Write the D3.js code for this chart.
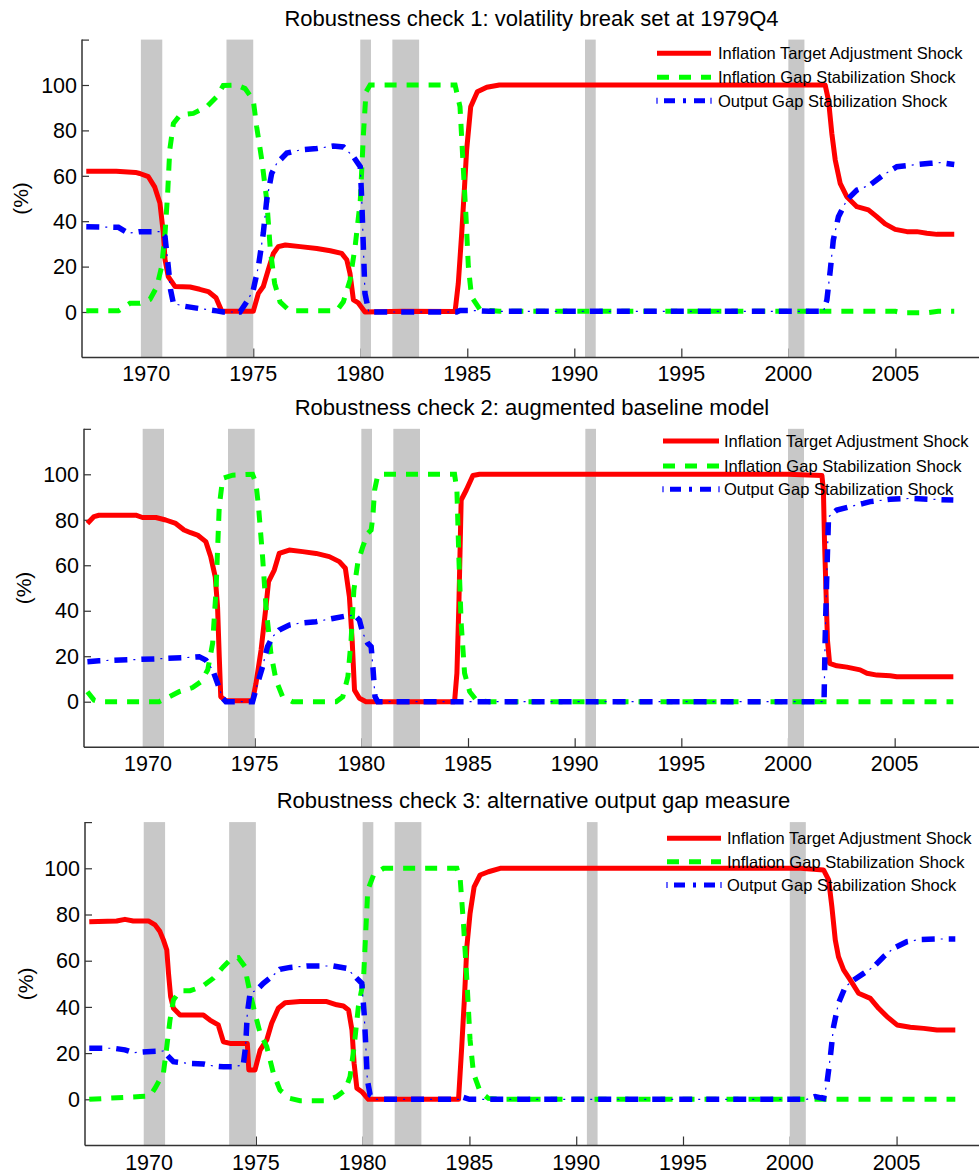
<!DOCTYPE html>
<html>
<head>
<meta charset="utf-8">
<script src="https://cdn.jsdelivr.net/npm/d3@7"></script>
<style>
  html, body { margin: 0; padding: 0; background: #fff; }
  svg { display: block; }
  text { font-family: "Liberation Sans", Arial, Helvetica, sans-serif; fill: #000; }
</style>
</head>
<body>
<svg id="chart" width="979" height="1175"></svg>
<script>
// ---------------- DATA ----------------
const titles = [
  "Robustness check 1: volatility break set at 1979Q4",
  "Robustness check 2: augmented baseline model",
  "Robustness check 3: alternative output gap measure"
];
const seriesNames = [
  "Inflation Target Adjustment Shock",
  "Inflation Gap Stabilization Shock",
  "Output Gap Stabilization Shock"
];
const xTicks = [1970, 1975, 1980, 1985, 1990, 1995, 2000, 2005];
const yTicks = [0, 20, 40, 60, 80, 100];
const yTickMarks = [0, 20, 40, 60, 80, 100, 120];
const xDomain = [1967, 2009];
const yDomain = [-20, 120];
const yLabel = "(%)";
// recession bands [start, end]
const recessions = [[1969.75,1970.75],[1973.75,1975.0],[1980.0,1980.5],[1981.5,1982.75],[1990.5,1991.0],[2000.0,2000.75]];

// Panel 1: [year, percent]
const p1Target = [[1967.2,62],[1968.6,62],[1969.5,61.5],[1969.7,61],[1970.1,59.6],[1970.4,55],[1970.64,48],[1970.8,34.7],[1970.88,23],[1971.03,15.6],[1971.35,11.2],[1972.05,11],[1972.5,10],[1972.9,9],[1973.26,6.3],[1973.53,0.3],[1975.0,0.3],[1975.24,8.2],[1975.47,11.2],[1975.7,18.5],[1975.94,25.8],[1976.17,28.8],[1976.5,29.5],[1977.2,28.8],[1977.97,28],[1978.6,27],[1979.13,25.8],[1979.37,23],[1979.52,17],[1979.68,5.3],[1979.91,4],[1980.22,0],[1982,0.3],[1984.43,0.2],[1984.58,12.6],[1984.74,34.7],[1984.87,55],[1984.97,71.4],[1985.16,90.4],[1985.47,97],[1985.91,99],[1986.5,100],[2001.72,100],[2001.88,93],[2002.03,78.7],[2002.19,67],[2002.42,56.7],[2002.73,50.8],[2003.2,46.4],[2003.74,45],[2004.13,42],[2004.52,38.8],[2004.99,36.4],[2005.54,35.4],[2006.0,35.4],[2006.47,34.7],[2006.94,34.2],[2007.75,34.2]];
const p1InfGap = [[1967.2,0.5],[1968.7,0.5],[1969.24,3.8],[1969.71,3.8],[1970.18,5.6],[1970.49,11],[1970.72,20],[1970.88,34.7],[1971.0,52],[1971.1,71.4],[1971.27,83],[1971.58,86.8],[1972.2,87.5],[1972.83,90.4],[1973.29,94.8],[1973.6,99.8],[1974.23,100],[1974.62,98.4],[1975.0,93.4],[1975.16,81.6],[1975.4,67],[1975.63,49.3],[1975.8,27.3],[1976.0,12.6],[1976.25,4.5],[1976.7,0.5],[1978.9,0.5],[1979.21,4.5],[1979.52,14],[1979.76,28.8],[1980.0,49],[1980.15,78.7],[1980.27,97],[1980.46,100],[1984.43,100],[1984.66,90.4],[1984.81,64],[1984.94,42],[1985.05,20],[1985.2,6.7],[1985.6,1],[1986.5,0.3],[2005.0,0.3],[2005.3,-0.3],[2006.5,-0.3],[2007.0,0.3],[2007.75,0.3]];
const p1OutGap = [[1967.2,37.6],[1968.7,37.3],[1969.17,34.7],[1969.71,35.4],[1970.64,35.4],[1970.88,33],[1971.03,20],[1971.14,9.7],[1971.27,3.8],[1971.74,2.6],[1972.5,1.5],[1973.29,0.5],[1973.6,0],[1974.38,0],[1974.7,4.5],[1975.0,9.7],[1975.24,20],[1975.47,34.7],[1975.63,49.3],[1975.86,61],[1976.1,65.5],[1976.57,70],[1977.2,71.4],[1977.97,72],[1978.74,73.1],[1979.21,72.7],[1979.68,68.4],[1980.0,64],[1980.07,49.3],[1980.15,27.3],[1980.22,8.2],[1980.4,0],[1984.5,0],[1984.66,0.7],[1985.2,0.7],[1986,0.3],[2001.64,0.3],[2001.8,5.3],[2001.96,18.5],[2002.1,31.7],[2002.34,42],[2002.73,49.3],[2003.2,53.7],[2003.82,56],[2004.44,60.4],[2005.07,64],[2005.85,64.8],[2006.63,65.5],[2007.1,65.8],[2007.75,65]];

// Panel 2
const p2Target = [[1967.16,78.4],[1967.47,81.4],[1967.7,82],[1969.43,82],[1969.74,81],[1970.37,81],[1970.83,79.9],[1971.3,78.4],[1971.69,75.5],[1972.0,74.3],[1972.32,73.3],[1972.71,70.4],[1972.94,63.8],[1973.15,55],[1973.26,41.8],[1973.34,19.8],[1973.41,2.2],[1973.65,0.4],[1974.9,0.4],[1975.06,8],[1975.3,22.7],[1975.53,41.8],[1975.65,52.8],[1975.92,57.9],[1976.15,65.2],[1976.62,66.7],[1977.25,66],[1977.88,65.2],[1978.5,63.8],[1978.97,61.6],[1979.25,58.7],[1979.44,46.2],[1979.57,27.1],[1979.68,5.1],[1979.91,1.5],[1980.22,0],[1984.37,0],[1984.48,12.5],[1984.57,41.8],[1984.68,88.7],[1984.92,93.1],[1985.23,99.5],[1985.54,100],[2000.0,100],[2001.59,99.5],[2001.66,93],[2001.71,71],[2001.78,49],[2001.85,27],[2001.95,16.9],[2002.29,15.8],[2002.76,15.2],[2003.38,14],[2003.7,12.5],[2004.17,11.7],[2004.79,11.4],[2005.1,11],[2007.75,11]];
const p2InfGap = [[1967.16,4.4],[1967.47,0.7],[1967.7,0],[1970.52,0],[1971.0,2.2],[1971.46,4.4],[1972.09,6.2],[1972.48,8.8],[1972.8,14],[1973.03,25.7],[1973.19,49.1],[1973.26,66.7],[1973.34,85.8],[1973.5,98.2],[1973.97,99.6],[1974.9,100],[1975.06,96],[1975.18,85.8],[1975.37,63.8],[1975.53,41.8],[1975.76,21.3],[1976.0,9.5],[1976.31,2.2],[1976.78,0],[1978.82,0],[1979.13,2.2],[1979.37,11],[1979.52,27.1],[1979.65,49.1],[1979.83,60.9],[1980.07,68.2],[1980.3,74],[1980.46,75.5],[1980.54,81.3],[1980.62,93],[1980.77,99.6],[1981.0,100],[1984.37,100],[1984.48,93],[1984.57,63.8],[1984.68,34.5],[1984.84,12.5],[1985.08,4.4],[1985.39,0.7],[1986,0],[2007.75,0]];
const p2OutGap = [[1967.16,17.6],[1967.7,18],[1969.58,18.6],[1970.52,18.9],[1971.62,19.3],[1972.4,19.8],[1972.71,18.3],[1973.03,14],[1973.26,8.1],[1973.5,1.5],[1973.65,0],[1974.9,0],[1975.14,8.1],[1975.37,15.4],[1975.6,24.2],[1975.84,28.6],[1976.15,31.5],[1976.62,33.7],[1977.09,34.5],[1977.88,35.2],[1978.66,36.6],[1979.29,37.7],[1979.68,38.1],[1979.91,35.9],[1980.07,30.1],[1980.3,25.7],[1980.46,24.2],[1980.54,15.4],[1980.64,2.2],[1980.77,0],[2001.69,0],[2001.74,27],[2001.82,56.4],[2001.9,81.3],[2002.29,84.3],[2002.92,85.8],[2003.54,87.2],[2003.85,88],[2004.79,89],[2005.73,89.4],[2006.67,89],[2007.75,88.7]];

// Panel 3
const p3Target = [[1967.2,76.9],[1968.48,77.2],[1968.87,77.9],[1969.26,77.2],[1969.97,77.2],[1970.28,75.5],[1970.51,72.6],[1970.67,69],[1970.83,64.6],[1970.91,54.5],[1971.01,44.4],[1971.14,39.4],[1971.45,36.5],[1972.54,36.5],[1972.85,34.3],[1973.24,32.2],[1973.48,24.9],[1973.79,24.2],[1974.6,24.2],[1974.67,12.7],[1974.96,12.7],[1975.2,21.3],[1975.51,25.7],[1975.74,32.9],[1976.05,39.4],[1976.37,41.8],[1977.07,42.3],[1978.32,42.3],[1978.79,40.9],[1979.1,40.4],[1979.34,38.7],[1979.5,30],[1979.6,15.6],[1979.73,4.8],[1979.96,3.3],[1980.27,0],[1984.49,0],[1984.64,22.8],[1984.77,44.4],[1984.88,66.1],[1985.03,80.5],[1985.22,92],[1985.5,97.1],[1985.89,98.5],[1986.44,100],[2000.5,100],[2001.58,99.3],[2001.82,95],[2001.97,83.4],[2002.13,69],[2002.28,61.7],[2002.52,56],[2002.83,51.7],[2003.22,45.9],[2003.77,43.7],[2004.16,39.4],[2004.55,35.8],[2005.02,32.2],[2005.64,31.2],[2006.27,30.7],[2006.89,30],[2007.75,30]];
const p3InfGap = [[1967.2,0],[1969.58,1.2],[1970.04,1.4],[1970.28,4.8],[1970.67,11.3],[1970.83,22.8],[1970.98,34.3],[1971.14,43],[1971.45,47],[1971.92,47],[1972.46,48.7],[1973.01,52.4],[1973.48,57.4],[1973.87,61],[1974.18,61.3],[1974.49,57.4],[1974.57,53.1],[1974.73,45.9],[1974.96,37.2],[1975.2,28.6],[1975.51,22.8],[1975.82,11.3],[1976.13,4],[1976.6,0.4],[1977.07,-0.6],[1978.24,-0.6],[1978.79,1.2],[1979.18,4],[1979.41,9.8],[1979.6,22.8],[1979.8,40.1],[1980.04,51.7],[1980.15,73.3],[1980.24,90.6],[1980.51,97.1],[1980.98,100],[1984.41,100],[1984.57,95],[1984.72,76.2],[1984.88,51.7],[1985.03,25.7],[1985.19,11.3],[1985.5,3.3],[1985.89,0.4],[1986.5,0],[2007.75,0]];
const p3OutGap = [[1967.2,22.1],[1968.33,22.1],[1968.87,21.4],[1969.26,20.2],[1969.89,20.6],[1970.67,20.9],[1970.91,18.5],[1971.14,16.3],[1971.76,15.6],[1972.54,15.3],[1973.01,14.4],[1973.48,14.1],[1973.95,14.1],[1974.41,14.9],[1974.52,22.8],[1974.6,37.2],[1974.73,45.9],[1975.04,47.3],[1975.35,50.2],[1975.74,53.1],[1976.13,56.3],[1976.6,57.1],[1977.38,57.7],[1978.63,57.7],[1979.26,56.7],[1979.65,53.1],[1979.96,50.2],[1980.07,37.2],[1980.15,22.8],[1980.22,8.4],[1980.35,1.9],[1980.66,0],[1984.5,0],[1984.6,1.2],[1985.0,0],[2000.8,0],[2001.19,1.2],[2001.58,0.4],[2001.74,6.9],[2001.9,18.5],[2002.05,31.4],[2002.28,41.6],[2002.6,48.7],[2002.99,51.6],[2003.46,54.5],[2003.93,57.4],[2004.39,61.7],[2004.86,65.4],[2005.48,68.2],[2006.11,69.2],[2006.89,69.4],[2007.75,69.4]];

const panelSeries = [
  [p1Target, p1InfGap, p1OutGap],
  [p2Target, p2InfGap, p2OutGap],
  [p3Target, p3InfGap, p3OutGap]
];

// ---------------- LAYOUT / STYLE ----------------
const layout = [
  { left: 82, right: 981, y0: 312,    y100: 85,    ylabX: 20, leg: { x1: 657, x2: 711, tx: 718, ys: [53.3, 77.3, 100.7] } },
  { left: 84, right: 980, y0: 701.7,  y100: 474.3, ylabX: 23, leg: { x1: 663, x2: 719, tx: 724, ys: [441, 466, 489.3] } },
  { left: 85, right: 982, y0: 1099.3, y100: 868.3, ylabX: 25, leg: { x1: 667, x2: 721, tx: 727, ys: [838.3, 861.7, 885] } }
];
const colors = ["#ff0000", "#00ff00", "#0000ff"];
const barColor = "#c8c8c8";
const axisColor = "#333";

const svg = d3.select("#chart");

panelSeries.forEach((series, pi) => {
  const L = layout[pi];
  const x = d3.scaleLinear().domain(xDomain).range([L.left, L.right]);
  const yBase = d3.scaleLinear().domain([0, 100]).range([L.y0, L.y100]);
  const y = d3.scaleLinear().domain(yDomain).range([yBase(yDomain[0]), yBase(yDomain[1])]);
  const top = y(yDomain[1]), bottom = y(yDomain[0]);
  const g = svg.append("g");

  // ticks (inward)
  const xAxis = d3.axisTop(x).tickValues(xTicks).tickSize(9).tickFormat("");
  g.append("g").attr("transform", `translate(0,${bottom})`).call(xAxis)
    .call(s => s.select(".domain").remove())
    .call(s => s.selectAll("line").attr("stroke", axisColor).attr("stroke-width", 1.2));
  const yAxis = d3.axisRight(y).tickValues(yTickMarks).tickSize(7).tickFormat("");
  g.append("g").attr("transform", `translate(${x.range()[0]},0)`).call(yAxis)
    .call(s => s.select(".domain").remove())
    .call(s => s.selectAll("line").attr("stroke", axisColor).attr("stroke-width", 1.2));

  // recession bars
  g.append("g").selectAll("rect").data(recessions).join("rect")
    .attr("x", d => x(d[0])).attr("width", d => x(d[1]) - x(d[0]))
    .attr("y", top).attr("height", bottom - top)
    .attr("fill", barColor);

  // axis lines
  g.append("line").attr("x1", x.range()[0]).attr("x2", x.range()[0])
    .attr("y1", top).attr("y2", bottom).attr("stroke", axisColor).attr("stroke-width", 1.5);
  g.append("line").attr("x1", x.range()[0]).attr("x2", x.range()[1])
    .attr("y1", bottom).attr("y2", bottom).attr("stroke", axisColor).attr("stroke-width", 1.5);

  // tick labels
  g.append("g").selectAll("text").data(xTicks).join("text")
    .attr("x", d => x(d)).attr("y", bottom + 24)
    .attr("text-anchor", "middle").attr("font-size", 21.5).text(d => d);
  g.append("g").selectAll("text").data(yTicks).join("text")
    .attr("x", x.range()[0] - 5).attr("y", d => y(d)).attr("dy", "0.36em")
    .attr("text-anchor", "end").attr("font-size", 21.5).text(d => d);

  // y label
  g.append("text")
    .attr("transform", `translate(${L.ylabX},${(top + bottom) / 2}) rotate(-90)`)
    .attr("text-anchor", "middle").attr("dy", "0.36em").attr("font-size", 21).text(yLabel);

  // title
  g.append("text").attr("x", (x.range()[0] + x.range()[1]) / 2).attr("y", top - 14)
    .attr("text-anchor", "middle").attr("font-size", 22).text(titles[pi]);

  // series
  const line = d3.line().x(d => x(d[0])).y(d => y(d[1])).curve(d3.curveLinear);
  series.forEach((data, si) => {
    const p = line(data);
    if (si === 0) {
      g.append("path").attr("d", p).attr("fill", "none").attr("stroke", colors[0])
        .attr("stroke-width", 5).attr("stroke-linejoin", "round");
    } else if (si === 1) {
      g.append("path").attr("d", p).attr("fill", "none").attr("stroke", colors[1])
        .attr("stroke-width", 5).attr("stroke-dasharray", "12,10");
    } else {
      g.append("path").attr("d", p).attr("fill", "none").attr("stroke", colors[2])
        .attr("stroke-width", 5.5).attr("stroke-dasharray", "13,14");
      g.append("path").attr("d", p).attr("fill", "none").attr("stroke", colors[2])
        .attr("stroke-width", 1.2).attr("stroke-dasharray", "0,19,2,6");
    }
  });

  // legend
  const lg = g.append("g");
  seriesNames.forEach((name, si) => {
    const ly = L.leg.ys[si];
    if (si === 0) {
      lg.append("line").attr("x1", L.leg.x1).attr("x2", L.leg.x2).attr("y1", ly).attr("y2", ly)
        .attr("stroke", colors[0]).attr("stroke-width", 5);
    } else if (si === 1) {
      lg.append("line").attr("x1", L.leg.x1).attr("x2", L.leg.x2).attr("y1", ly).attr("y2", ly)
        .attr("stroke", colors[1]).attr("stroke-width", 5).attr("stroke-dasharray", "12,10");
    } else {
      lg.append("line").attr("x1", L.leg.x1 + 7).attr("x2", L.leg.x2).attr("y1", ly).attr("y2", ly)
        .attr("stroke", colors[2]).attr("stroke-width", 5).attr("stroke-dasharray", "11,8,3,8");
      lg.append("line").attr("x1", L.leg.x1).attr("x2", L.leg.x1).attr("y1", ly - 3).attr("y2", ly + 3)
        .attr("stroke", colors[2]).attr("stroke-width", 1.2);
      lg.append("line").attr("x1", L.leg.x2).attr("x2", L.leg.x2).attr("y1", ly - 3).attr("y2", ly + 3)
        .attr("stroke", colors[2]).attr("stroke-width", 1.2);
    }
    lg.append("text").attr("x", L.leg.tx).attr("y", ly).attr("dy", "0.36em")
      .attr("font-size", 16.5).text(name);
  });
});
</script>
</body>
</html>
